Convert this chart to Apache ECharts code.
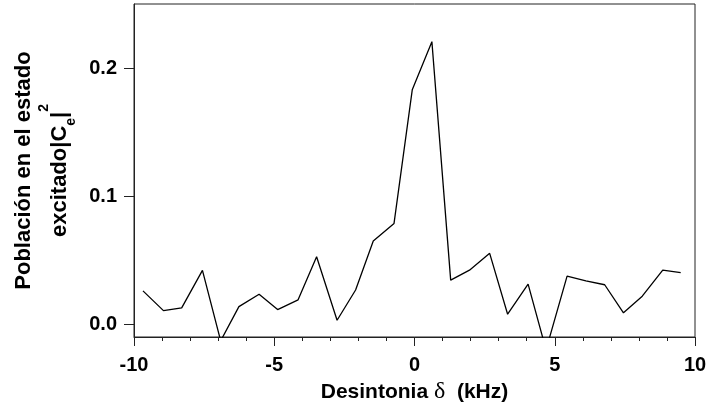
<!DOCTYPE html>
<html>
<head>
<meta charset="utf-8">
<script src="https://cdn.jsdelivr.net/npm/echarts@6/dist/echarts.min.js"></script>
<style>
html,body{margin:0;padding:0;background:#fff;}
#chart{width:710px;height:405px;}
</style>
</head>
<body>
<div id="chart"></div>
<script>
// Detuning (kHz)
const detuning = [-9.68, -8.95, -8.30, -7.56, -6.91, -6.26, -5.54, -4.88, -4.15, -3.49,
  -2.76, -2.10, -1.47, -0.73, -0.08, 0.62, 1.29, 1.96, 2.68, 3.32,
  4.05, 4.69, 5.44, 6.11, 6.78, 7.45, 8.12, 8.85, 9.49];
// Excited-state population |Ce|^2
const population = [0.026, 0.0106, 0.0127, 0.042, -0.013, 0.0137, 0.0234, 0.0114, 0.019, 0.0527,
  0.0031, 0.0267, 0.065, 0.0787, 0.183, 0.2206, 0.0344, 0.0422, 0.0553, 0.0078,
  0.0313, -0.02, 0.0375, 0.0339, 0.0308, 0.0089, 0.0219, 0.0422, 0.0402];
const yTicks = [0, 0.1, 0.2];
const xRange = [-10, 10];
const yRange = [-0.01, 0.25];

const chart = echarts.init(document.getElementById('chart'), null, {renderer: 'canvas'});
const font = 'Liberation Sans, Arial, sans-serif';
const axisColor = '#222';
chart.setOption({
  animation: false,
  backgroundColor: '#fff',
  grid: {left: 134, right: 15, top: 4, bottom: 68, show: true, borderColor: axisColor, borderWidth: 1,
    containLabel: false, outerBoundsMode: 'none'},
  xAxis: {
    type: 'value', min: xRange[0], max: xRange[1], interval: 5,
    axisLine: {show: true, onZero: false, lineStyle: {color: axisColor, width: 1}},
    axisTick: {show: true, inside: false, length: 9, lineStyle: {color: axisColor, width: 1}},
    minorTick: {show: true, splitNumber: 5, length: 4, lineStyle: {color: axisColor, width: 1}},
    splitLine: {show: false},
    axisLabel: {color: '#000', fontFamily: font, fontWeight: 'bold', fontSize: 20, margin: 18},
    name: '{t|Desintonia }{d|δ}{t|  (kHz)}',
    nameLocation: 'middle', nameGap: 41,
    nameTextStyle: {
      rich: {
        t: {fontFamily: font, fontWeight: 'bold', fontSize: 21, color: '#000'},
        d: {fontFamily: 'Liberation Serif, DejaVu Serif, serif', fontWeight: 'normal', fontSize: 24, color: '#000'}
      }
    }
  },
  yAxis: {
    type: 'value', min: yRange[0], max: yRange[1],
    axisLine: {show: true, onZero: false, lineStyle: {color: axisColor, width: 1}},
    axisTick: {show: true, length: 10, customValues: yTicks, lineStyle: {color: axisColor, width: 1}},
    splitLine: {show: false},
    axisLabel: {color: '#000', fontFamily: font, fontWeight: 'bold', fontSize: 20, margin: 17,
      customValues: yTicks, formatter: v => v.toFixed(1)},
    name: '{l1|Población en el estado}\n{n|excitado|C}{sub|e}{n||}{sup|2}',
    nameLocation: 'middle', nameRotate: 90, nameGap: 49,
    nameTextStyle: {
      rich: {
        l1: {fontFamily: font, fontWeight: 'bold', fontSize: 22, lineHeight: 26, color: '#000'},
        n: {fontFamily: font, fontWeight: 'bold', fontSize: 22, verticalAlign: 'top', padding: [12, 0, 0, 0], color: '#000'},
        sub: {fontFamily: font, fontWeight: 'bold', fontSize: 14, verticalAlign: 'top', padding: [27, 0, 0, 0], color: '#000'},
        sup: {fontFamily: font, fontWeight: 'bold', fontSize: 14, verticalAlign: 'top', padding: [0, 0, 0, 0], color: '#000'}
      }
    }
  },
  series: [{
    type: 'line',
    data: detuning.map((x, i) => [x, population[i]]),
    showSymbol: false, symbol: 'none',
    clip: true,
    lineStyle: {color: '#000', width: 1.3}
  }]
});
</script>
</body>
</html>
